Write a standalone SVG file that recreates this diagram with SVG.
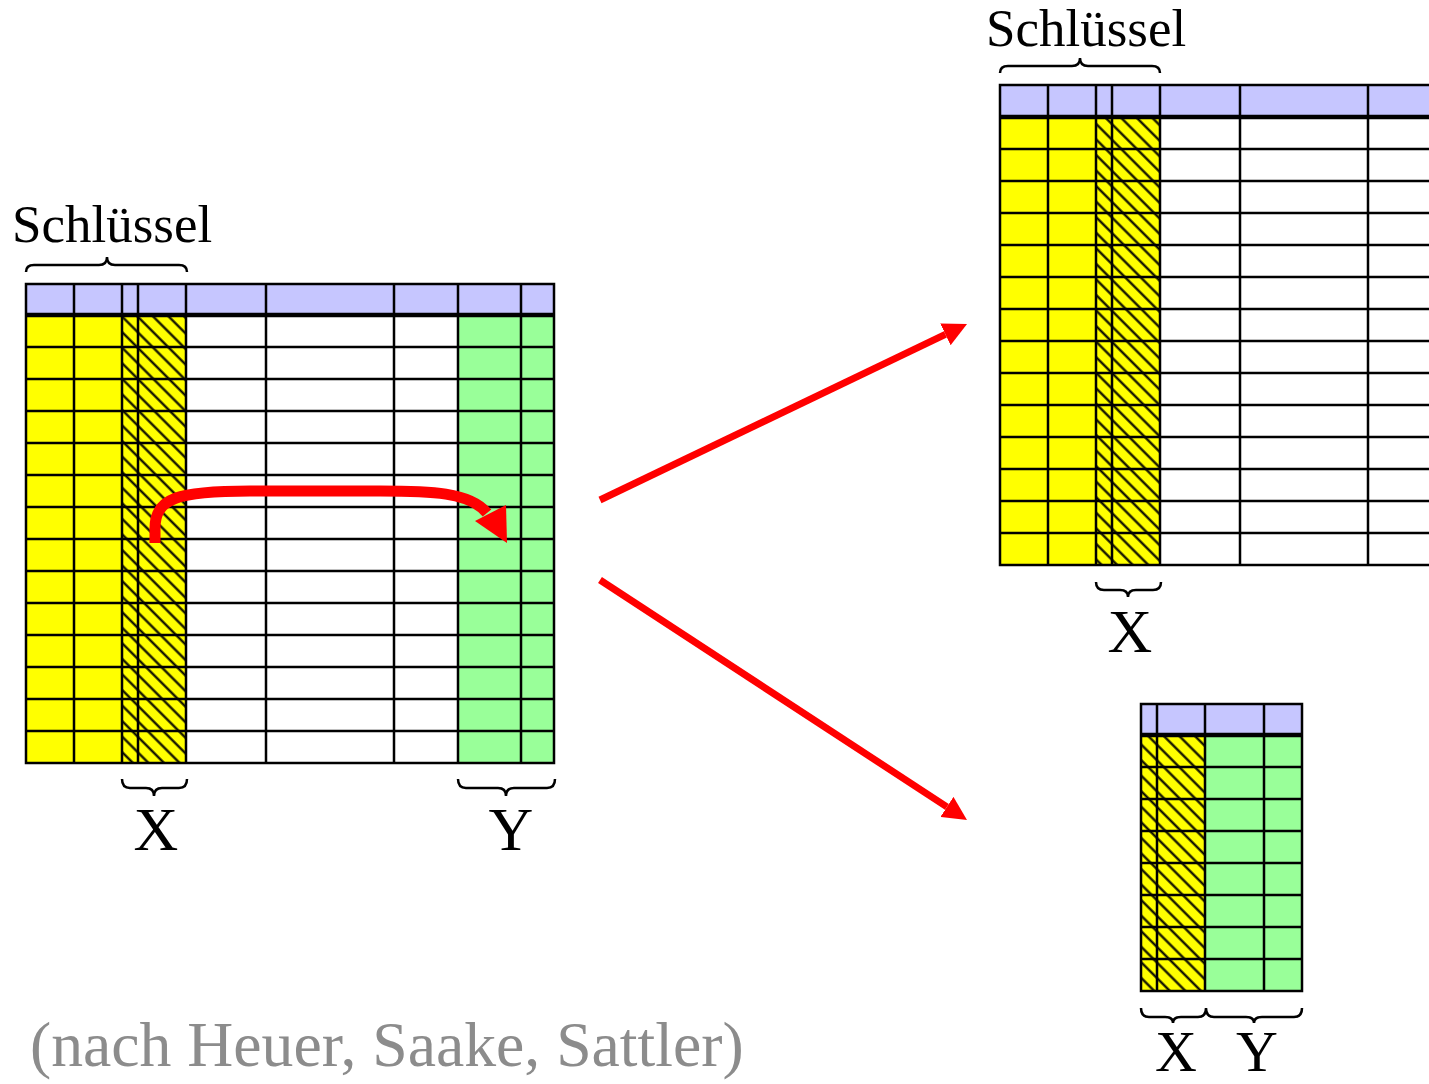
<svg xmlns="http://www.w3.org/2000/svg" width="1429" height="1084" viewBox="0 0 1429 1084">
<style>
.hdr{fill:#c6c6ff}
.yel{fill:#ffff00}
.grn{fill:#99ff99}
.wht{fill:#ffffff}
.hat{fill:url(#hatch)}
.grid{stroke:#000;stroke-width:2.5;fill:none}
.sep{stroke:#000;stroke-width:4.5;fill:none}
.brace{stroke:#000;stroke-width:2.5;fill:none}
.lbl{font-family:"Liberation Serif","Times New Roman",serif;fill:#000}
.big{font-size:62px;text-anchor:middle}
.bot{font-size:58px;text-anchor:middle}
.key{font-size:53px}
.note{font-family:"Liberation Serif","Times New Roman",serif;font-size:63.7px;fill:#8c8c8c}
.arr{stroke:#ff0000;stroke-width:7;fill:none}
.curve{stroke:#ff0000;stroke-width:11;fill:none}
</style>
<defs>
<pattern id="hatch" patternUnits="userSpaceOnUse" width="11" height="11" patternTransform="rotate(-45)">
<rect width="11" height="11" fill="#ffff00"/>
<line x1="5.5" y1="-1" x2="5.5" y2="12" stroke="#000" stroke-width="2.2"/>
</pattern>
<marker id="ah" markerUnits="userSpaceOnUse" markerWidth="24" markerHeight="24" refX="0" refY="12" orient="auto" viewBox="0 0 24 24">
<path d="M0,0 L24,12 L0,24 z" fill="#ff0000"/>
</marker>
</defs>
<rect width="1429" height="1084" fill="#ffffff"/>

<g id="table-R">
<rect class="hdr" x="26" y="284" width="528" height="31"/>
<rect class="yel" x="26" y="315" width="96" height="448"/>
<rect class="hat" x="122" y="315" width="64" height="448"/>
<rect class="wht" x="186" y="315" width="272" height="448"/>
<rect class="grn" x="458" y="315" width="96" height="448"/>
<path class="grid" d="M74,284V763 M122,284V763 M138,284V763 M186,284V763 M266,284V763 M394,284V763 M458,284V763 M521,284V763
M26,347H554 M26,379H554 M26,411H554 M26,443H554 M26,475H554 M26,507H554 M26,539H554 M26,571H554 M26,603H554 M26,635H554 M26,667H554 M26,699H554 M26,731H554"/>
<path class="sep" d="M26,315H554"/>
<rect class="grid" x="26" y="284" width="528" height="479"/>
<path class="brace" d="M26,272 Q26,265 34,265 L99,265 Q107,265 107,257 Q107,265 115,265 L179,265 Q187,265 187,272"/>
<text class="lbl key" x="12" y="242">Schlüssel</text>
<path class="brace" d="M122,779 Q122,788 130,788 L146,788 Q154,788 154,796 Q154,788 162,788 L179,788 Q187,788 187,779"/>
<text class="lbl big" x="156" y="850">X</text>
<path class="brace" d="M458,779 Q458,788 466,788 L498,788 Q506,788 506,796 Q506,788 514,788 L547,788 Q555,788 555,779"/>
<text class="lbl big" x="511" y="850">Y</text>
</g>

<g id="table-R1">
<rect class="hdr" x="1000" y="85" width="440" height="32"/>
<rect class="yel" x="1000" y="117" width="96" height="448"/>
<rect class="hat" x="1096" y="117" width="64" height="448"/>
<rect class="wht" x="1160" y="117" width="280" height="448"/>
<path class="grid" d="M1048,85V565 M1096,85V565 M1112,85V565 M1160,85V565 M1240,85V565 M1368,85V565
M1000,149H1440 M1000,181H1440 M1000,213H1440 M1000,245H1440 M1000,277H1440 M1000,309H1440 M1000,341H1440 M1000,373H1440 M1000,405H1440 M1000,437H1440 M1000,469H1440 M1000,501H1440 M1000,533H1440"/>
<path class="sep" d="M1000,117H1440"/>
<rect class="grid" x="1000" y="85" width="440" height="480"/>
<path class="brace" d="M1000,73 Q1000,66 1008,66 L1072,66 Q1080,66 1080,58 Q1080,66 1088,66 L1152,66 Q1160,66 1160,73"/>
<text class="lbl key" x="986" y="46">Schlüssel</text>
<path class="brace" d="M1096,582 Q1096,590 1104,590 L1120,590 Q1128,590 1128,597 Q1128,590 1136,590 L1153,590 Q1161,590 1161,582"/>
<text class="lbl big" x="1130" y="652">X</text>
</g>

<g id="table-R2">
<rect class="hdr" x="1141" y="704" width="161" height="31"/>
<rect class="hat" x="1141" y="735" width="64" height="256"/>
<rect class="grn" x="1205" y="735" width="97" height="256"/>
<path class="grid" d="M1157,704V991 M1205,704V991 M1264,704V991
M1141,767H1302 M1141,799H1302 M1141,831H1302 M1141,863H1302 M1141,895H1302 M1141,927H1302 M1141,959H1302"/>
<path class="sep" d="M1141,735H1302"/>
<rect class="grid" x="1141" y="704" width="161" height="287"/>
<path class="brace" d="M1141,1008 Q1141,1017 1149,1017 L1165,1017 Q1173,1017 1173,1023 Q1173,1017 1181,1017 L1198,1017 Q1206,1017 1206,1008 Q1206,1017 1214,1017 L1246,1017 Q1254,1017 1254,1023 Q1254,1017 1262,1017 L1294,1017 Q1302,1017 1302,1008"/>
<text class="lbl bot" x="1176" y="1071">X</text>
<text class="lbl bot" x="1257" y="1071">Y</text>
</g>

<g id="connectors">
<path class="curve" d="M155,543 L155,528 C155,498 178,491 250,491 L380,491 C430,491 470,492 487,513"/>
<polygon points="507,543 475,521 506,505" fill="#ff0000"/>
<path class="arr" d="M600,500 L945.4,334.4" marker-end="url(#ah)"/>
<path class="arr" d="M600,580 L946.9,806.9" marker-end="url(#ah)"/>
</g>

<text class="note" x="30" y="1066">(nach Heuer, Saake, Sattler)</text>
</svg>
